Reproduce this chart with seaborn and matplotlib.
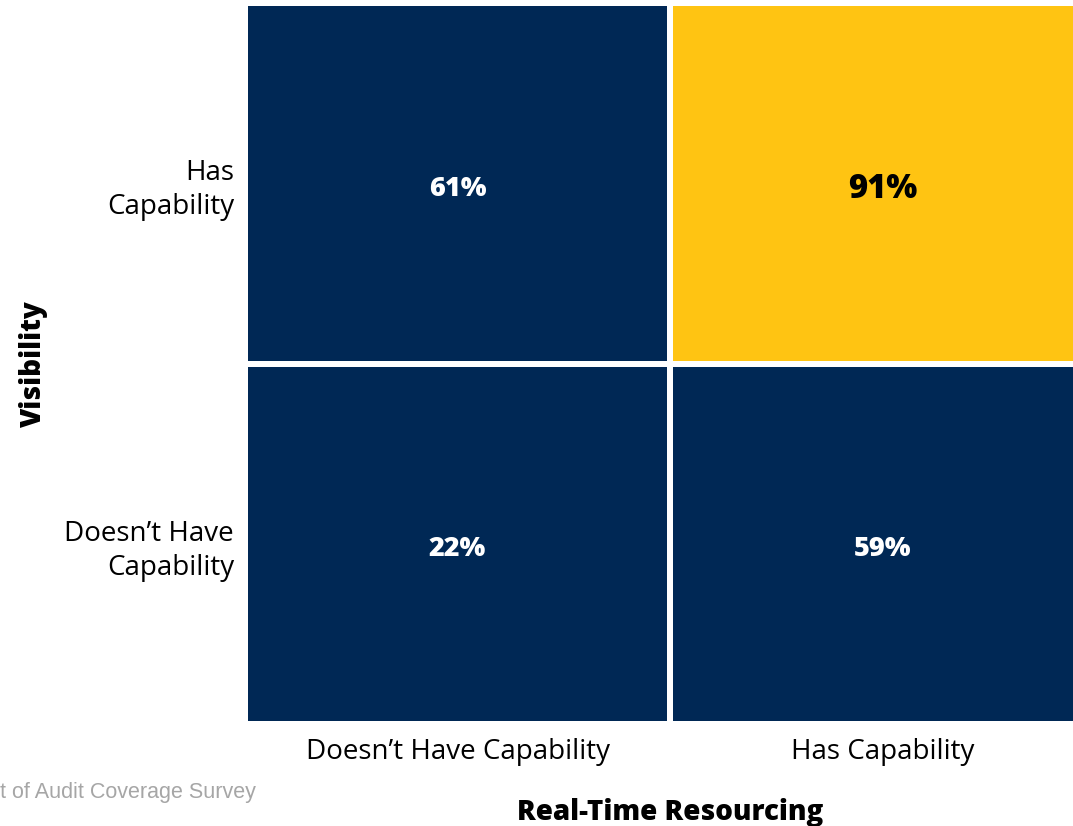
import numpy as np
import pandas as pd
import seaborn as sns
import matplotlib.pyplot as plt
from matplotlib.colors import ListedColormap
from matplotlib.transforms import ScaledTranslation

row_labels = ["Has\nCapability", "Doesn\u2019t Have\nCapability"]
col_labels = ["Doesn\u2019t Have Capability", "Has Capability"]
values = [[61, 91],
          [22, 59]]
highlight = [[0, 1],
             [0, 0]]

NAVY = "#002855"
GOLD = "#FFC412"

sns.set_style("white")
plt.rcParams['font.family'] = ['Open Sans', 'DejaVu Sans']

df = pd.DataFrame(highlight, index=row_labels, columns=col_labels)
annot = np.array([[f"{v}%" for v in row] for row in values])

fig = plt.figure(figsize=(10.73, 8.26), dpi=100)
# right part of the grid runs past the figure edge, as in the reference
ax = fig.add_axes([245 / 1073, 102 / 826, 850 / 1073, 721 / 826])

sns.heatmap(
    df,
    ax=ax,
    cmap=ListedColormap([NAVY, GOLD]),
    vmin=0, vmax=1,
    cbar=False,
    annot=annot,
    fmt='',
    linewidths=4,
    linecolor='white',
    annot_kws={'fontsize': 19.5, 'fontweight': 800, 'color': 'white'},
)

# highlighted cell gets dark, bigger text; all labels sit a bit low
for t, flag in zip(ax.texts, np.array(highlight).ravel()):
    x, y = t.get_position()
    t.set_position((x, y + 0.015))
    if flag:
        t.set_color('black')
        t.set_fontsize(23.5)

ax.tick_params(axis='y', length=0, pad=8, labelcolor='black')
ax.tick_params(axis='x', length=0, pad=10, labelcolor='black')
ax.set_yticklabels(row_labels, rotation=0, ha='right', fontsize=20, linespacing=1.3)
ax.set_xticklabels(col_labels, rotation=0, fontsize=20)
shift = ScaledTranslation(0, -5 / 72, fig.dpi_scale_trans)
for lbl in ax.get_yticklabels():
    lbl.set_transform(lbl.get_transform() + shift)

ax.set_xlabel('Real-Time Resourcing', fontsize=20, fontweight=800, color='black', labelpad=23)
ax.set_ylabel('Visibility', fontsize=20, fontweight=800, color='black')
ax.yaxis.set_label_coords((33 - 245) / 850, 0.5)
ax.yaxis.label.set_verticalalignment('center')

fig.text(0.0, 0.041, "t of Audit Coverage Survey", color='#A6A6A6',
         fontsize=15.5, family='Liberation Sans', ha='left', va='center')

fig.savefig('out.png', dpi=100)
